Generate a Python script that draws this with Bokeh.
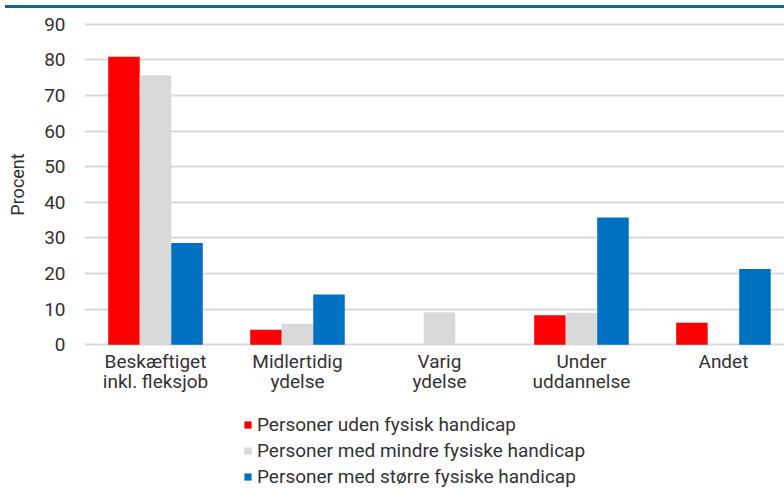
import math
from bokeh.plotting import figure
from bokeh.models import Range1d, FixedTicker, Legend, LegendItem, ColumnDataSource, Div
from bokeh.layouts import column
from bokeh.transform import dodge
from bokeh.embed import file_html
from bokeh.resources import INLINE

nan = float("nan")

categories = ["Beskæftiget\ninkl. fleksjob", "Midlertidig\nydelse", "Varig\nydelse",
              "Under\nuddannelse", "Andet"]
series_names = ["Personer uden fysisk handicap",
                "Personer med mindre fysiske handicap",
                "Personer med større fysiske handicap"]
uden = [80.9, 4.2, nan, 8.3, 6.2]
mindre = [75.7, 5.9, 9.1, 9.0, nan]
stoerre = [28.6, 14.1, nan, 35.7, 21.3]
y_ticks = [0, 10, 20, 30, 40, 50, 60, 70, 80, 90]

colors = ["#FF0000", "#D9D9D9", "#0070C0"]
FONT = "Roboto"
TXT = "#333333"
W = 784

xpos = [i + 0.5 for i in range(len(categories))]
src = ColumnDataSource(dict(x=xpos, uden=uden, mindre=mindre, stoerre=stoerre))

p = figure(width=W, height=390, output_backend="svg", toolbar_location=None,
           x_range=Range1d(0, 4.93), y_range=Range1d(-0.5, 90.5),
           min_border_left=84, min_border_right=0, min_border_top=9,
           min_border_bottom=57)
p.outline_line_color = None

bw = 0.222
for key, off, col in zip(["uden", "mindre", "stoerre"], [-bw, 0, bw], colors):
    p.vbar(x=dodge("x", off), top=key, bottom=0, width=bw, source=src,
           fill_color=col, line_color=None)

p.xgrid.grid_line_color = None
p.ygrid.grid_line_color = "#D9D9D9"
p.ygrid.grid_line_width = 2
p.yaxis.ticker = FixedTicker(ticks=y_ticks)
p.xaxis.ticker = FixedTicker(ticks=xpos)
p.xaxis.major_label_overrides = {x: c for x, c in zip(xpos, categories)}

for ax in (p.xaxis[0], p.yaxis[0]):
    ax.axis_line_color = None
    ax.major_tick_line_color = None
    ax.minor_tick_line_color = None
    ax.major_label_text_font = FONT
    ax.major_label_text_font_size = "19px"
    ax.major_label_text_color = TXT
p.xaxis.major_label_text_line_height = 0.91

p.yaxis.major_label_standoff = 13
p.xaxis.major_label_standoff = -3
p.yaxis.axis_label = "Procent"
p.yaxis.axis_label_text_font = FONT
p.yaxis.axis_label_text_font_size = "18px"
p.yaxis.axis_label_text_font_style = "normal"
p.yaxis.axis_label_text_color = TXT
p.yaxis.axis_label_standoff = 13

# legend in its own small figure below the chart
pl = figure(width=W, height=87, output_backend="svg", toolbar_location=None,
            x_range=Range1d(0, 1), y_range=Range1d(0, 1),
            min_border=0)
pl.outline_line_color = None
pl.axis.visible = False
pl.grid.visible = False
leg_r = [pl.vbar(x=[-10], top=[-10], bottom=[-10], width=0.1, fill_color=c,
                 line_color=None) for c in colors]
items = [LegendItem(label=n, renderers=[r]) for n, r in zip(series_names, leg_r)]
legend = Legend(items=items, location=(159, 2), orientation="vertical",
                background_fill_alpha=0, border_line_color=None,
                padding=0, margin=0, spacing=3, label_height=21,
                glyph_width=9, glyph_height=9, label_standoff=5,
                label_text_font=FONT, label_text_font_size="19px",
                label_text_color=TXT)
pl.add_layout(legend)

bar = Div(text="", width=W, height=3, styles={"background-color": "#0F6994"})
layout = column(bar, p, pl, spacing=0)

open("out.html", "w").write(file_html(layout, INLINE))
